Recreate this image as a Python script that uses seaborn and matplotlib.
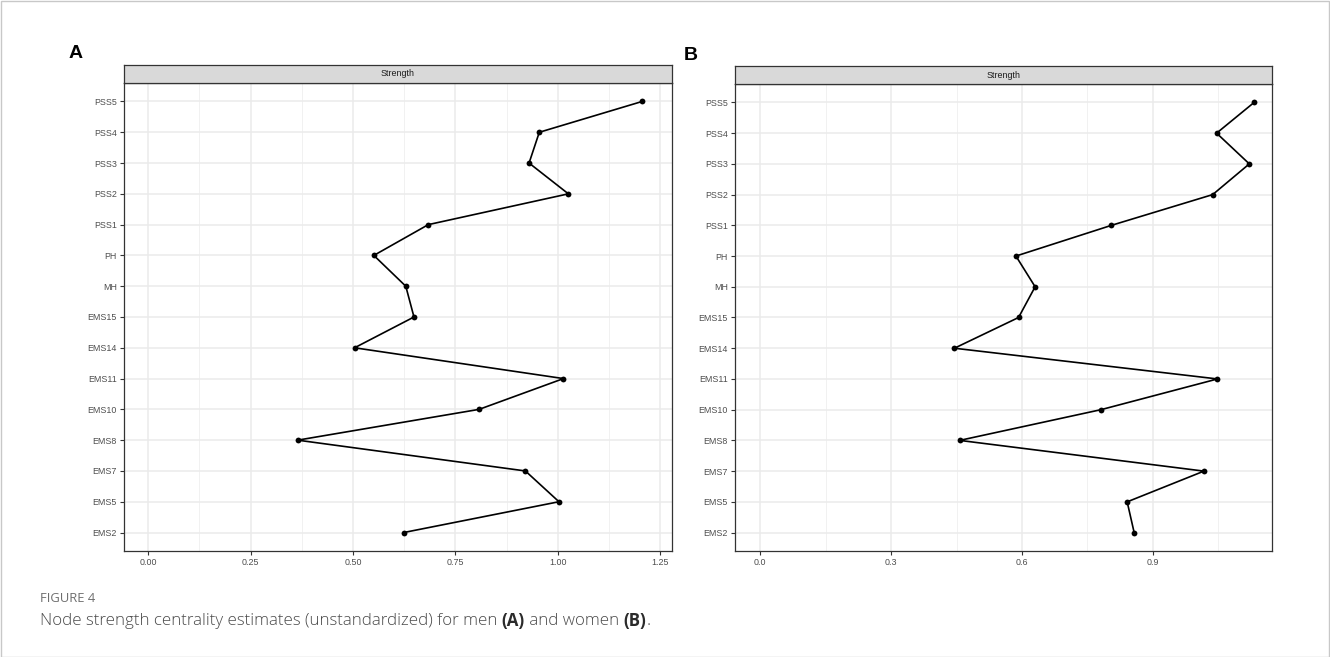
import numpy as np
import pandas as pd
import matplotlib
matplotlib.use("Agg")
import matplotlib.pyplot as plt
from matplotlib.patches import Rectangle
from matplotlib.ticker import MultipleLocator
import seaborn as sns

# Nodes listed bottom-to-top
nodes = ["EMS2", "EMS5", "EMS7", "EMS8", "EMS10", "EMS11", "EMS14", "EMS15",
         "MH", "PH", "PSS1", "PSS2", "PSS3", "PSS4", "PSS5"]

# Unstandardized strength centrality
strength_men = [0.624, 1.003, 0.921, 0.365, 0.808, 1.014, 0.504, 0.649,
                0.629, 0.551, 0.684, 1.026, 0.930, 0.955, 1.206]
strength_women = [0.857, 0.841, 1.017, 0.457, 0.781, 1.048, 0.445, 0.592,
                  0.630, 0.586, 0.805, 1.037, 1.121, 1.046, 1.132]

men_ticks = [0.00, 0.25, 0.50, 0.75, 1.00, 1.25]
men_ticklabels = ["0.00", "0.25", "0.50", "0.75", "1.00", "1.25"]
women_ticks = [0.0, 0.3, 0.6, 0.9]
women_ticklabels = ["0.0", "0.3", "0.6", "0.9"]

strip_label = "Strength"
panel_letters = ["A", "B"]
fig_label = "FIGURE 4"
caption_parts = ["Node strength centrality estimates (unstandardized) for men ",
                 "(A)", " and women ", "(B)", "."]

sns.set_theme(style="white")
plt.rcParams["font.family"] = ["Liberation Sans", "DejaVu Sans"]

W, H = 1330, 657
fig = plt.figure(figsize=(W / 100, H / 100), dpi=100)
fig.patch.set_facecolor("white")


def px_axes(x0, y0, x1, y1):
    return fig.add_axes([x0 / W, 1 - y1 / H, (x1 - x0) / W, (y1 - y0) / H])


def draw_panel(values, ticks, ticklabels, xlim, minor_step, box, strip_top, letter, letter_xy):
    x0, y0, x1, y1 = box
    ax = px_axes(x0, y0, x1, y1)
    df = pd.DataFrame({"node": nodes, "value": values, "pos": np.arange(len(nodes))})

    ax.set_facecolor("white")
    ax.set_axisbelow(True)
    sns.lineplot(data=df, x="value", y="pos", sort=False, estimator=None,
                 color="black", linewidth=1.2, marker="o", markersize=4.2,
                 markeredgewidth=0, ax=ax)

    ax.set_xlim(*xlim)
    ax.set_ylim(-0.6, len(nodes) - 1 + 0.6)
    ax.set_xticks(ticks)
    ax.set_xticklabels(ticklabels)
    ax.xaxis.set_minor_locator(MultipleLocator(minor_step))
    ax.set_yticks(df["pos"])
    ax.set_yticklabels(df["node"])
    ax.set_xlabel("")
    ax.set_ylabel("")

    ax.grid(which="major", color="#EBEBEB", linewidth=1.1)
    ax.grid(which="minor", axis="x", color="#F1F1F1", linewidth=0.7)
    ax.tick_params(axis="both", which="major", length=2.8, width=0.8, color="#333333",
                   labelsize=6.4, labelcolor="#4D4D4D", pad=2.5, bottom=True, left=True)
    ax.tick_params(axis="x", which="minor", length=0)
    for s in ax.spines.values():
        s.set_color("#333333")
        s.set_linewidth(0.9)

    # facet strip
    sax = px_axes(x0, strip_top, x1, y0)
    sax.set_facecolor("#D9D9D9")
    sax.set_xticks([])
    sax.set_yticks([])
    for s in sax.spines.values():
        s.set_color("#333333")
        s.set_linewidth(0.9)
    sax.text(0.5, 0.5, strip_label, transform=sax.transAxes, ha="center", va="center",
             fontsize=6.4, color="#1A1A1A")

    fig.text(letter_xy[0] / W, 1 - letter_xy[1] / H, letter, fontsize=14,
             fontweight="bold", color="black", ha="left", va="center")
    return ax


draw_panel(strength_men, men_ticks, men_ticklabels, (-0.059, 1.279), 0.125,
           (124, 83, 672, 551), 65, panel_letters[0], (69, 54))
draw_panel(strength_women, women_ticks, women_ticklabels, (-0.058, 1.173), 0.15,
           (735, 84, 1272, 551), 66, panel_letters[1], (684, 55))

# caption
fig.text(40 / W, 1 - 598 / H, fig_label, fontsize=9.4, color="#6E6E6E",
         family=["Open Sans", "DejaVu Sans"], ha="left", va="center")

renderer = fig.canvas.get_renderer()
x_cursor = 40
for part in caption_parts:
    bold = part in ("(A)", "(B)")
    t = fig.text(x_cursor / W, 1 - 621 / H, part, fontsize=12.2,
                 color="#2B2B2B" if bold else "#4A4A4A",
                 fontweight="bold" if bold else "light",
                 family=["Open Sans", "DejaVu Sans"], ha="left", va="center")
    bb = t.get_window_extent(renderer=renderer)
    x_cursor += bb.width

# outer frame
fig.add_artist(Rectangle((0.5 / W, 0.5 / H), (W - 1.5) / W, (H - 1.5) / H,
                         transform=fig.transFigure, fill=False,
                         edgecolor="#C8C8C8", linewidth=1.0))

fig.savefig("out.png", dpi=100, facecolor="white")
